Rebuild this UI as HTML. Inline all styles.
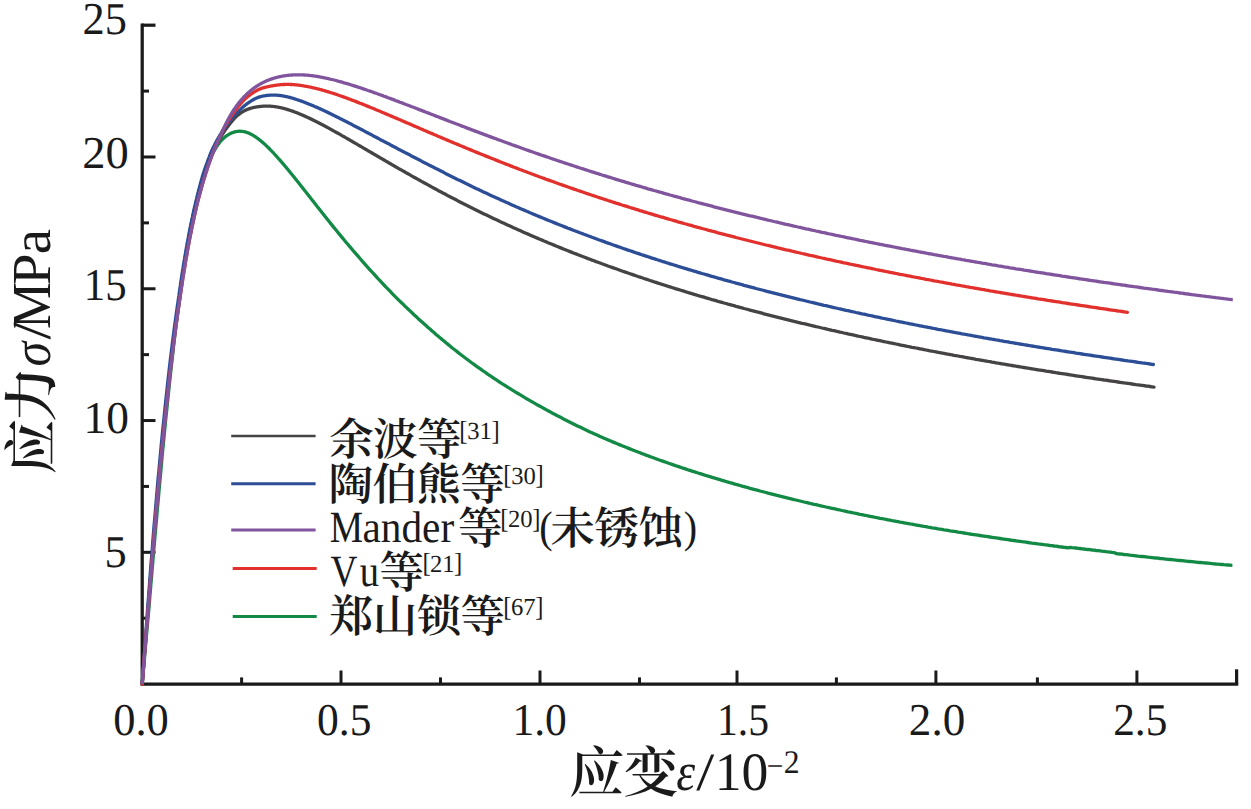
<!DOCTYPE html>
<html><head><meta charset="utf-8"><title>chart</title>
<style>html,body{margin:0;padding:0;background:#fff}svg{display:block}text{font-family:"Liberation Serif","Noto Serif CJK SC",serif;text-rendering:geometricPrecision}</style>
</head><body>
<svg width="1251" height="809" viewBox="0 0 1251 809">
<rect width="1251" height="809" fill="#fff"/>
<g stroke="#1a1a1a" stroke-width="3.25" fill="none" stroke-linecap="butt">
<path d="M142.20 23.48 V684.10 H1238.22"/>
<path d="M142.20 618.21 H149.00" stroke-width="3.00"/>
<path d="M142.20 552.32 H155.50" stroke-width="3.00"/>
<path d="M142.20 486.43 H149.00" stroke-width="3.00"/>
<path d="M142.20 420.54 H155.50" stroke-width="3.00"/>
<path d="M142.20 354.65 H149.00" stroke-width="3.00"/>
<path d="M142.20 288.76 H155.50" stroke-width="3.00"/>
<path d="M142.20 222.87 H149.00" stroke-width="3.00"/>
<path d="M142.20 156.98 H155.50" stroke-width="3.00"/>
<path d="M142.20 91.09 H149.00" stroke-width="3.00"/>
<path d="M142.20 25.20 H155.50" stroke-width="3.25"/>
<path d="M241.60 684.10 V677.40" stroke-width="3.00"/>
<path d="M341.00 684.10 V670.50" stroke-width="3.00"/>
<path d="M440.50 684.10 V677.40" stroke-width="3.00"/>
<path d="M540.00 684.10 V670.50" stroke-width="3.00"/>
<path d="M639.50 684.10 V677.40" stroke-width="3.00"/>
<path d="M737.00 684.10 V670.50" stroke-width="3.00"/>
<path d="M836.40 684.10 V677.40" stroke-width="3.00"/>
<path d="M935.90 684.10 V670.50" stroke-width="3.00"/>
<path d="M1037.40 684.10 V677.40" stroke-width="3.00"/>
<path d="M1136.90 684.10 V670.50" stroke-width="3.00"/>
<path d="M1236.60 684.10 V669.30" stroke-width="3.25"/>
</g>
<g fill="none" stroke-width="3.3" stroke-linejoin="round">
<path d="M142.2 684.1 L142.8 677.2 L143.4 670.3 L144.0 663.5 L144.6 656.6 L145.2 649.8 L145.8 643.0 L146.4 636.2 L147.0 629.4 L147.6 622.7 L148.2 616.0 L148.8 609.3 L149.4 602.6 L149.9 596.0 L150.5 589.4 L151.0 582.9 L151.6 576.3 L152.1 569.9 L152.7 563.4 L153.2 557.1 L153.7 550.7 L154.3 544.4 L154.8 538.1 L155.4 531.9 L155.9 525.8 L156.5 519.6 L157.0 513.6 L157.5 507.6 L158.1 501.6 L158.6 495.7 L159.1 489.8 L159.6 484.0 L160.2 478.2 L160.7 472.5 L161.2 466.9 L161.7 461.3 L162.2 455.7 L162.7 450.2 L163.3 444.8 L163.8 439.4 L164.3 434.1 L164.8 428.8 L165.3 423.6 L165.8 418.5 L166.4 413.4 L166.9 408.4 L167.4 403.4 L167.9 398.5 L168.4 393.6 L168.9 388.8 L169.4 384.0 L169.9 379.3 L170.4 374.7 L170.9 370.1 L171.4 365.6 L171.9 361.2 L172.4 356.8 L172.9 352.4 L173.3 348.1 L173.8 343.9 L174.3 339.7 L174.8 335.6 L175.3 331.5 L175.8 327.5 L176.3 323.5 L176.8 319.6 L177.3 315.8 L177.8 312.0 L178.3 308.3 L178.8 304.6 L179.3 300.9 L179.8 297.4 L180.2 293.8 L180.7 290.4 L181.1 286.9 L181.6 283.6 L182.1 280.3 L182.5 277.0 L183.0 273.8 L183.4 270.6 L183.9 267.5 L184.4 264.4 L184.8 261.4 L185.3 258.4 L185.7 255.5 L186.2 252.6 L186.7 249.8 L187.1 247.0 L187.6 244.3 L188.1 241.6 L188.6 238.9 L189.0 236.3 L189.5 233.7 L190.0 231.2 L190.4 228.8 L190.9 226.3 L191.4 223.9 L191.9 221.6 L192.3 219.3 L192.8 217.0 L193.3 214.8 L193.7 212.6 L194.2 210.5 L194.7 208.4 L195.2 206.3 L195.6 204.3 L196.1 202.3 L196.6 200.3 L197.1 198.4 L197.5 196.5 L198.0 194.7 L198.5 192.9 L199.0 191.1 L199.4 189.4 L199.9 187.7 L200.4 186.0 L200.9 184.4 L201.3 182.8 L201.8 181.2 L202.3 179.7 L202.8 178.2 L203.3 176.7 L203.7 175.2 L204.2 173.8 L204.7 172.4 L205.2 171.1 L205.6 169.7 L206.1 168.5 L206.6 167.2 L207.1 165.9 L207.6 164.7 L208.1 163.5 L208.5 162.4 L209.0 161.3 L209.5 160.1 L210.0 159.1 L210.5 158.0 L210.9 157.0 L211.4 156.0 L211.9 155.0 L212.4 154.0 L212.9 153.1 L213.3 152.2 L213.8 151.3 L214.3 150.5 L214.8 149.6 L215.3 148.8 L215.8 148.0 L216.2 147.2 L216.7 146.5 L217.2 145.8 L217.7 145.1 L218.2 144.4 L218.7 143.7 L219.2 143.1 L219.7 142.4 L220.2 141.8 L220.7 141.2 L221.2 140.7 L221.7 140.1 L222.2 139.6 L222.7 139.1 L223.2 138.6 L223.7 138.2 L224.2 137.7 L224.7 137.3 L225.2 136.9 L225.7 136.5 L226.2 136.1 L226.7 135.7 L227.2 135.4 L227.7 135.1 L228.2 134.8 L228.7 134.5 L229.2 134.2 L229.7 133.9 L230.2 133.6 L230.7 133.4 L231.2 133.2 L231.7 132.9 L232.2 132.7 L232.7 132.5 L233.2 132.4 L233.7 132.2 L234.2 132.1 L234.7 131.9 L235.2 131.8 L235.7 131.7 L236.2 131.6 L236.7 131.5 L237.2 131.4 L237.7 131.3 L238.2 131.3 L238.7 131.3 L239.2 131.2 L239.7 131.2 L240.2 131.2 L240.7 131.3 L241.2 131.3 L241.7 131.3 L242.2 131.4 L242.7 131.4 L243.2 131.5 L243.7 131.6 L244.2 131.7 L244.7 131.8 L245.2 131.9 L245.7 132.1 L246.2 132.2 L246.7 132.4 L247.2 132.5 L247.7 132.7 L248.2 132.9 L248.7 133.1 L249.2 133.3 L249.7 133.6 L250.2 133.8 L250.7 134.1 L251.2 134.3 L251.7 134.6 L252.2 134.9 L252.7 135.1 L253.2 135.4 L253.7 135.7 L254.2 136.1 L254.7 136.4 L255.2 136.7 L255.7 137.0 L256.2 137.4 L256.7 137.7 L257.2 138.1 L257.7 138.4 L258.2 138.8 L258.7 139.2 L259.2 139.6 L259.7 140.0 L260.2 140.4 L260.7 140.8 L261.2 141.2 L261.7 141.6 L262.2 142.0 L262.7 142.5 L263.2 142.9 L263.7 143.3 L264.2 143.8 L264.7 144.2 L265.2 144.7 L265.7 145.2 L266.2 145.6 L266.7 146.1 L267.2 146.6 L267.7 147.1 L268.2 147.5 L268.7 148.0 L269.2 148.5 L269.7 149.0 L270.2 149.6 L270.7 150.1 L271.2 150.6 L271.7 151.1 L272.2 151.6 L272.7 152.2 L273.2 152.7 L273.7 153.2 L274.2 153.8 L274.7 154.3 L275.2 154.9 L275.7 155.4 L276.2 156.0 L276.7 156.5 L277.2 157.1 L277.7 157.6 L278.2 158.2 L278.7 158.8 L279.2 159.3 L279.7 159.9 L280.2 160.5 L280.7 161.0 L281.2 161.6 L281.7 162.2 L282.2 162.8 L282.7 163.4 L283.2 164.0 L283.7 164.5 L284.2 165.1 L284.7 165.7 L285.2 166.3 L285.7 166.9 L286.2 167.5 L286.7 168.1 L287.2 168.7 L287.7 169.3 L288.2 169.9 L288.7 170.5 L289.2 171.1 L289.7 171.8 L290.2 172.4 L290.7 173.0 L291.2 173.6 L291.7 174.2 L292.2 174.8 L292.7 175.4 L293.2 176.1 L293.7 176.7 L294.2 177.3 L294.7 177.9 L295.2 178.5 L295.7 179.2 L296.2 179.8 L296.7 180.4 L297.2 181.1 L297.7 181.7 L298.2 182.3 L298.7 182.9 L299.2 183.6 L299.7 184.2 L300.2 184.8 L300.7 185.5 L301.2 186.1 L301.7 186.7 L302.2 187.4 L302.7 188.0 L303.2 188.6 L303.7 189.3 L304.2 189.9 L304.7 190.5 L305.2 191.2 L305.7 191.8 L306.2 192.4 L306.7 193.1 L307.2 193.7 L307.7 194.4 L308.2 195.0 L308.7 195.6 L309.2 196.3 L309.7 196.9 L310.2 197.5 L310.7 198.2 L311.2 198.8 L311.7 199.5 L312.2 200.1 L312.7 200.7 L313.2 201.4 L313.7 202.0 L314.2 202.6 L314.7 203.3 L315.2 203.9 L315.7 204.6 L316.2 205.2 L316.7 205.8 L317.2 206.5 L317.7 207.1 L318.2 207.7 L318.7 208.4 L319.2 209.0 L319.7 209.6 L320.2 210.3 L320.7 210.9 L321.2 211.5 L321.7 212.2 L322.2 212.8 L322.7 213.4 L323.2 214.1 L323.7 214.7 L324.2 215.3 L324.7 216.0 L325.2 216.6 L325.7 217.2 L326.2 217.8 L326.7 218.5 L327.2 219.1 L327.7 219.7 L328.2 220.4 L328.7 221.0 L329.2 221.6 L329.7 222.2 L330.0 222.6 L332.0 225.1 L334.0 227.6 L336.0 230.0 L338.0 232.5 L340.0 234.9 L342.0 237.4 L344.0 239.8 L346.0 242.2 L348.0 244.5 L350.0 246.9 L352.0 249.3 L354.0 251.6 L356.0 253.9 L358.0 256.2 L360.0 258.5 L362.0 260.8 L364.0 263.1 L366.0 265.4 L368.0 267.6 L370.0 269.8 L372.0 272.0 L374.0 274.2 L376.0 276.4 L378.0 278.6 L380.0 280.7 L382.0 282.9 L384.0 285.0 L386.0 287.1 L388.0 289.1 L390.0 291.2 L392.0 293.3 L394.0 295.3 L396.0 297.3 L398.0 299.3 L400.0 301.3 L402.0 303.2 L404.0 305.2 L406.0 307.1 L408.0 309.0 L410.0 310.9 L412.0 312.8 L414.0 314.7 L416.0 316.5 L418.0 318.4 L420.0 320.2 L422.0 322.0 L424.0 323.8 L426.0 325.6 L428.0 327.4 L430.0 329.1 L432.0 330.9 L434.0 332.6 L436.0 334.4 L438.0 336.1 L440.0 337.8 L442.0 339.4 L444.0 341.1 L446.0 342.8 L448.0 344.4 L450.0 346.0 L452.0 347.7 L454.0 349.2 L456.0 350.8 L458.0 352.4 L460.0 354.0 L462.0 355.5 L464.0 357.0 L466.0 358.5 L468.0 360.0 L470.0 361.5 L472.0 363.0 L474.0 364.4 L476.0 365.9 L478.0 367.3 L480.0 368.7 L482.0 370.1 L484.0 371.5 L486.0 372.9 L488.0 374.3 L490.0 375.6 L492.0 377.0 L494.0 378.3 L496.0 379.6 L498.0 381.0 L500.0 382.3 L502.0 383.6 L504.0 384.8 L506.0 386.1 L508.0 387.4 L510.0 388.6 L512.0 389.9 L514.0 391.1 L516.0 392.3 L518.0 393.5 L520.0 394.7 L522.0 395.9 L524.0 397.1 L526.0 398.3 L528.0 399.5 L530.0 400.6 L532.0 401.8 L534.0 402.9 L536.0 404.1 L538.0 405.2 L540.0 406.3 L542.0 407.4 L544.0 408.5 L546.0 409.6 L548.0 410.7 L550.0 411.8 L552.0 412.9 L554.0 413.9 L556.0 415.0 L558.0 416.1 L560.0 417.1 L562.0 418.1 L564.0 419.2 L566.0 420.2 L568.0 421.2 L570.0 422.2 L572.0 423.2 L574.0 424.2 L576.0 425.2 L578.0 426.2 L580.0 427.1 L582.0 428.1 L584.0 429.1 L586.0 430.0 L588.0 430.9 L590.0 431.9 L592.0 432.8 L594.0 433.7 L596.0 434.6 L598.0 435.5 L600.0 436.4 L602.0 437.3 L604.0 438.2 L606.0 439.0 L608.0 439.9 L610.0 440.7 L612.0 441.6 L614.0 442.4 L616.0 443.2 L618.0 444.1 L620.0 444.9 L622.0 445.7 L624.0 446.5 L626.0 447.3 L628.0 448.1 L630.0 448.9 L632.0 449.7 L634.0 450.5 L636.0 451.3 L638.0 452.0 L640.0 452.8 L642.0 453.6 L644.0 454.3 L646.0 455.1 L648.0 455.8 L650.0 456.6 L652.0 457.3 L654.0 458.0 L656.0 458.7 L658.0 459.5 L660.0 460.2 L662.0 460.9 L664.0 461.6 L666.0 462.3 L668.0 463.0 L670.0 463.7 L672.0 464.4 L674.0 465.1 L676.0 465.8 L678.0 466.4 L680.0 467.1 L682.0 467.8 L684.0 468.4 L686.0 469.1 L688.0 469.8 L690.0 470.4 L692.0 471.1 L694.0 471.7 L696.0 472.3 L698.0 473.0 L700.0 473.6 L702.0 474.2 L704.0 474.9 L706.0 475.5 L708.0 476.1 L710.0 476.7 L712.0 477.3 L714.0 477.9 L716.0 478.5 L718.0 479.1 L720.0 479.7 L722.0 480.3 L724.0 480.9 L726.0 481.5 L728.0 482.1 L730.0 482.7 L732.0 483.2 L734.0 483.8 L736.0 484.4 L738.0 484.9 L740.0 485.5 L742.0 486.1 L744.0 486.6 L746.0 487.2 L748.0 487.7 L750.0 488.3 L752.0 488.8 L754.0 489.4 L756.0 489.9 L758.0 490.4 L760.0 491.0 L762.0 491.5 L764.0 492.0 L766.0 492.5 L768.0 493.1 L770.0 493.6 L772.0 494.1 L774.0 494.6 L776.0 495.1 L778.0 495.6 L780.0 496.1 L782.0 496.6 L784.0 497.1 L786.0 497.6 L788.0 498.1 L790.0 498.6 L792.0 499.1 L794.0 499.6 L796.0 500.0 L798.0 500.5 L800.0 501.0 L802.0 501.5 L804.0 502.0 L806.0 502.4 L808.0 502.9 L810.0 503.4 L812.0 503.8 L814.0 504.3 L816.0 504.7 L818.0 505.2 L820.0 505.6 L822.0 506.1 L824.0 506.5 L826.0 507.0 L828.0 507.4 L830.0 507.9 L832.0 508.3 L834.0 508.7 L836.0 509.2 L838.0 509.6 L840.0 510.0 L842.0 510.5 L844.0 510.9 L846.0 511.3 L848.0 511.8 L850.0 512.2 L852.0 512.6 L854.0 513.0 L856.0 513.4 L858.0 513.8 L860.0 514.3 L862.0 514.7 L864.0 515.1 L866.0 515.5 L868.0 515.9 L870.0 516.3 L872.0 516.7 L874.0 517.1 L876.0 517.5 L878.0 517.9 L880.0 518.3 L882.0 518.6 L884.0 519.0 L886.0 519.4 L888.0 519.8 L890.0 520.2 L892.0 520.6 L894.0 520.9 L896.0 521.3 L898.0 521.7 L900.0 522.1 L902.0 522.4 L904.0 522.8 L906.0 523.2 L908.0 523.5 L910.0 523.9 L912.0 524.2 L914.0 524.6 L916.0 525.0 L918.0 525.3 L920.0 525.7 L922.0 526.0 L924.0 526.4 L926.0 526.7 L928.0 527.1 L930.0 527.4 L932.0 527.8 L934.0 528.1 L936.0 528.4 L938.0 528.8 L940.0 529.1 L942.0 529.4 L944.0 529.8 L946.0 530.1 L948.0 530.4 L950.0 530.8 L952.0 531.1 L954.0 531.4 L956.0 531.7 L958.0 532.1 L960.0 532.4 L962.0 532.7 L964.0 533.0 L966.0 533.3 L968.0 533.7 L970.0 534.0 L972.0 534.3 L974.0 534.6 L976.0 534.9 L978.0 535.2 L980.0 535.5 L982.0 535.8 L984.0 536.1 L986.0 536.4 L988.0 536.7 L990.0 537.0 L992.0 537.3 L994.0 537.6 L996.0 537.9 L998.0 538.2 L1000.0 538.5 L1002.0 538.8 L1004.0 539.1 L1006.0 539.4 L1008.0 539.7 L1010.0 540.0 L1012.0 540.3 L1014.0 540.5 L1016.0 540.8 L1018.0 541.1 L1020.0 541.4 L1022.0 541.7 L1024.0 541.9 L1026.0 542.2 L1028.0 542.5 L1030.0 542.8 L1032.0 543.1 L1034.0 543.3 L1036.0 543.6 L1038.0 543.9 L1040.0 544.1 L1042.0 544.4 L1044.0 544.7 L1046.0 544.9 L1048.0 545.2 L1050.0 545.5 L1052.0 545.7 L1054.0 546.0 L1056.0 546.2 L1058.0 546.5 L1060.0 546.8 L1062.0 547.0 L1064.0 547.3 L1066.0 547.5 L1068.0 547.8 L1070.0 547.3 L1072.0 547.6 L1074.0 547.8 L1076.0 548.0 L1078.0 548.3 L1080.0 548.5 L1082.0 548.8 L1084.0 549.0 L1086.0 549.3 L1088.0 549.5 L1090.0 549.7 L1092.0 550.0 L1094.0 550.2 L1096.0 550.5 L1098.0 550.7 L1100.0 550.9 L1102.0 551.2 L1104.0 551.4 L1106.0 551.7 L1108.0 551.9 L1110.0 552.1 L1112.0 552.4 L1114.0 552.6 L1116.0 553.5 L1118.0 553.8 L1120.0 554.0 L1122.0 554.2 L1124.0 554.5 L1126.0 554.7 L1128.0 554.9 L1130.0 555.2 L1132.0 555.4 L1134.0 555.6 L1136.0 555.8 L1138.0 556.1 L1140.0 556.3 L1142.0 556.5 L1144.0 556.7 L1146.0 556.9 L1148.0 557.2 L1150.0 557.4 L1152.0 557.6 L1154.0 557.8 L1156.0 558.0 L1158.0 558.2 L1160.0 558.5 L1162.0 558.7 L1164.0 558.9 L1166.0 559.1 L1168.0 559.3 L1170.0 559.5 L1172.0 559.7 L1174.0 559.9 L1176.0 560.1 L1178.0 560.3 L1180.0 560.5 L1182.0 560.7 L1184.0 560.9 L1186.0 561.1 L1188.0 561.3 L1190.0 561.5 L1192.0 561.7 L1194.0 561.9 L1196.0 562.1 L1198.0 562.3 L1200.0 562.5 L1202.0 562.7 L1204.0 562.9 L1206.0 563.0 L1208.0 563.2 L1210.0 563.4 L1212.0 563.6 L1214.0 563.8 L1216.0 564.0 L1218.0 564.1 L1220.0 564.3 L1222.0 564.5 L1224.0 564.7 L1226.0 564.8 L1228.0 565.0 L1230.0 565.2 L1232.0 565.4 L1232.4 565.4" stroke="#128a45" stroke-linecap="butt"/>
<path d="M142.2 684.1 L142.8 676.9 L143.3 669.7 L143.9 662.5 L144.4 655.3 L145.0 648.2 L145.5 641.1 L146.1 634.1 L146.6 627.1 L147.2 620.1 L147.7 613.2 L148.3 606.3 L148.8 599.5 L149.3 592.7 L149.9 586.0 L150.4 579.3 L150.9 572.7 L151.4 566.1 L152.0 559.6 L152.5 553.2 L153.0 546.8 L153.5 540.4 L154.1 534.2 L154.6 527.9 L155.1 521.8 L155.6 515.7 L156.2 509.6 L156.7 503.7 L157.2 497.8 L157.7 491.9 L158.2 486.1 L158.8 480.4 L159.3 474.7 L159.8 469.1 L160.3 463.6 L160.8 458.1 L161.3 452.7 L161.9 447.3 L162.4 442.0 L162.9 436.8 L163.4 431.6 L163.9 426.5 L164.4 421.4 L165.0 416.5 L165.5 411.5 L166.0 406.7 L166.5 401.8 L167.0 397.1 L167.5 392.4 L168.0 387.8 L168.5 383.2 L169.0 378.7 L169.5 374.2 L170.0 369.8 L170.5 365.5 L171.0 361.2 L171.5 357.0 L172.0 352.8 L172.5 348.7 L173.0 344.6 L173.5 340.6 L174.0 336.7 L174.5 332.8 L175.0 328.9 L175.5 325.1 L176.0 321.4 L176.5 317.7 L177.0 314.0 L177.5 310.5 L178.0 306.9 L178.5 303.4 L179.0 300.0 L179.5 296.6 L179.9 293.2 L180.4 289.9 L180.9 286.7 L181.4 283.5 L181.9 280.3 L182.3 277.2 L182.8 274.2 L183.3 271.1 L183.8 268.2 L184.2 265.2 L184.7 262.3 L185.2 259.5 L185.7 256.7 L186.1 253.9 L186.6 251.2 L187.1 248.5 L187.6 245.8 L188.1 243.2 L188.5 240.7 L189.0 238.1 L189.5 235.7 L190.0 233.2 L190.5 230.8 L190.9 228.4 L191.4 226.1 L191.9 223.8 L192.4 221.5 L192.9 219.2 L193.3 217.0 L193.8 214.9 L194.3 212.7 L194.8 210.6 L195.3 208.6 L195.8 206.5 L196.2 204.5 L196.7 202.6 L197.2 200.6 L197.7 198.7 L198.2 196.8 L198.6 195.0 L199.1 193.2 L199.6 191.4 L200.1 189.6 L200.5 187.9 L201.0 186.2 L201.5 184.5 L202.0 182.8 L202.5 181.2 L202.9 179.6 L203.4 178.1 L203.9 176.5 L204.4 175.0 L204.9 173.5 L205.4 172.0 L205.8 170.6 L206.3 169.2 L206.8 167.8 L207.3 166.4 L207.8 165.0 L208.2 163.7 L208.7 162.4 L209.2 161.1 L209.7 159.8 L210.2 158.6 L210.7 157.4 L211.2 156.2 L211.7 155.0 L212.2 153.9 L212.7 152.7 L213.2 151.6 L213.7 150.5 L214.2 149.4 L214.7 148.4 L215.2 147.3 L215.7 146.3 L216.2 145.3 L216.7 144.3 L217.2 143.4 L217.7 142.4 L218.2 141.5 L218.7 140.6 L219.2 139.7 L219.7 138.8 L220.2 137.9 L220.7 137.1 L221.2 136.2 L221.7 135.4 L222.2 134.6 L222.7 133.8 L223.2 133.1 L223.7 132.3 L224.2 131.6 L224.7 130.8 L225.2 130.1 L225.7 129.4 L226.2 128.7 L226.7 128.0 L227.2 127.3 L227.7 126.7 L228.2 126.0 L228.7 125.3 L229.2 124.7 L229.7 124.0 L230.2 123.4 L230.7 122.8 L231.2 122.2 L231.7 121.6 L232.2 121.0 L232.7 120.4 L233.2 119.8 L233.7 119.3 L234.2 118.7 L234.7 118.2 L235.2 117.7 L235.7 117.2 L236.2 116.7 L236.7 116.2 L237.2 115.7 L237.7 115.3 L238.2 114.9 L238.7 114.5 L239.2 114.1 L239.7 113.7 L240.2 113.3 L240.7 113.0 L241.2 112.6 L241.7 112.3 L242.2 112.0 L242.7 111.7 L243.2 111.4 L243.7 111.1 L244.2 110.9 L244.7 110.6 L245.2 110.4 L245.7 110.1 L246.2 109.9 L246.7 109.7 L247.2 109.5 L247.7 109.3 L248.2 109.1 L248.7 108.9 L249.2 108.7 L249.7 108.6 L250.2 108.4 L250.7 108.3 L251.2 108.1 L251.7 108.0 L252.2 107.9 L252.7 107.7 L253.2 107.6 L253.7 107.5 L254.2 107.4 L254.7 107.3 L255.2 107.2 L255.7 107.1 L256.2 107.0 L256.7 106.9 L257.2 106.9 L257.7 106.8 L258.2 106.7 L258.7 106.6 L259.2 106.6 L259.7 106.5 L260.2 106.5 L260.7 106.4 L261.2 106.4 L261.7 106.3 L262.2 106.3 L262.7 106.2 L263.2 106.2 L263.7 106.2 L264.2 106.2 L264.7 106.1 L265.2 106.1 L265.7 106.1 L266.2 106.1 L266.7 106.1 L267.2 106.1 L267.7 106.1 L268.2 106.1 L268.7 106.1 L269.2 106.2 L269.7 106.2 L270.2 106.2 L270.7 106.2 L271.2 106.3 L271.7 106.3 L272.2 106.3 L272.7 106.4 L273.2 106.4 L273.7 106.5 L274.2 106.6 L274.7 106.6 L275.2 106.7 L275.7 106.8 L276.2 106.8 L276.7 106.9 L277.2 107.0 L277.7 107.1 L278.2 107.2 L278.7 107.3 L279.2 107.4 L279.7 107.5 L280.2 107.6 L280.7 107.7 L281.2 107.8 L281.7 107.9 L282.2 108.0 L282.7 108.2 L283.2 108.3 L283.7 108.4 L284.2 108.5 L284.7 108.7 L285.2 108.8 L285.7 109.0 L286.2 109.1 L286.7 109.3 L287.2 109.4 L287.7 109.6 L288.2 109.7 L288.7 109.9 L289.2 110.0 L289.7 110.2 L290.2 110.4 L290.7 110.5 L291.2 110.7 L291.7 110.9 L292.2 111.1 L292.7 111.2 L293.2 111.4 L293.7 111.6 L294.2 111.8 L294.7 112.0 L295.2 112.2 L295.7 112.4 L296.2 112.5 L296.7 112.7 L297.2 112.9 L297.7 113.1 L298.2 113.3 L298.7 113.5 L299.2 113.7 L299.7 114.0 L300.2 114.2 L300.7 114.4 L301.2 114.6 L301.7 114.8 L302.2 115.0 L302.7 115.2 L303.2 115.4 L303.7 115.7 L304.2 115.9 L304.7 116.1 L305.2 116.3 L305.7 116.6 L306.2 116.8 L306.7 117.0 L307.2 117.2 L307.7 117.5 L308.2 117.7 L308.7 117.9 L309.2 118.2 L309.7 118.4 L310.2 118.6 L310.7 118.9 L311.2 119.1 L311.7 119.4 L312.2 119.6 L312.7 119.9 L313.2 120.1 L313.7 120.3 L314.2 120.6 L314.7 120.8 L315.2 121.1 L315.7 121.3 L316.2 121.6 L316.7 121.8 L317.2 122.1 L317.7 122.3 L318.2 122.6 L318.7 122.9 L319.2 123.1 L319.7 123.4 L320.2 123.6 L320.7 123.9 L321.2 124.2 L321.7 124.4 L322.2 124.7 L322.7 124.9 L323.2 125.2 L323.7 125.5 L324.2 125.7 L324.7 126.0 L325.2 126.3 L325.7 126.5 L326.2 126.8 L326.7 127.1 L327.2 127.3 L327.7 127.6 L328.2 127.9 L328.7 128.2 L329.2 128.4 L329.7 128.7 L330.0 128.9 L332.0 130.0 L334.0 131.1 L336.0 132.2 L338.0 133.3 L340.0 134.4 L342.0 135.6 L344.0 136.7 L346.0 137.9 L348.0 139.0 L350.0 140.2 L352.0 141.3 L354.0 142.5 L356.0 143.6 L358.0 144.8 L360.0 146.0 L362.0 147.1 L364.0 148.3 L366.0 149.5 L368.0 150.7 L370.0 151.8 L372.0 153.0 L374.0 154.2 L376.0 155.3 L378.0 156.5 L380.0 157.7 L382.0 158.8 L384.0 160.0 L386.0 161.2 L388.0 162.3 L390.0 163.5 L392.0 164.7 L394.0 165.8 L396.0 167.0 L398.0 168.1 L400.0 169.3 L402.0 170.4 L404.0 171.5 L406.0 172.7 L408.0 173.8 L410.0 174.9 L412.0 176.1 L414.0 177.2 L416.0 178.3 L418.0 179.4 L420.0 180.5 L422.0 181.6 L424.0 182.7 L426.0 183.8 L428.0 184.9 L430.0 186.0 L432.0 187.1 L434.0 188.2 L436.0 189.3 L438.0 190.4 L440.0 191.4 L442.0 192.5 L444.0 193.6 L446.0 194.6 L448.0 195.7 L450.0 196.7 L452.0 197.8 L454.0 198.8 L456.0 199.8 L458.0 200.9 L460.0 201.9 L462.0 202.9 L464.0 203.9 L466.0 204.9 L468.0 206.0 L470.0 207.0 L472.0 208.0 L474.0 209.0 L476.0 209.9 L478.0 210.9 L480.0 211.9 L482.0 212.9 L484.0 213.9 L486.0 214.8 L488.0 215.8 L490.0 216.7 L492.0 217.7 L494.0 218.7 L496.0 219.6 L498.0 220.5 L500.0 221.5 L502.0 222.4 L504.0 223.3 L506.0 224.3 L508.0 225.2 L510.0 226.1 L512.0 227.0 L514.0 227.9 L516.0 228.8 L518.0 229.7 L520.0 230.6 L522.0 231.5 L524.0 232.4 L526.0 233.3 L528.0 234.1 L530.0 235.0 L532.0 235.9 L534.0 236.7 L536.0 237.6 L538.0 238.4 L540.0 239.3 L542.0 240.1 L544.0 241.0 L546.0 241.8 L548.0 242.7 L550.0 243.5 L552.0 244.3 L554.0 245.1 L556.0 246.0 L558.0 246.8 L560.0 247.6 L562.0 248.4 L564.0 249.2 L566.0 250.0 L568.0 250.8 L570.0 251.6 L572.0 252.4 L574.0 253.2 L576.0 253.9 L578.0 254.7 L580.0 255.5 L582.0 256.3 L584.0 257.0 L586.0 257.8 L588.0 258.6 L590.0 259.3 L592.0 260.1 L594.0 260.8 L596.0 261.6 L598.0 262.3 L600.0 263.0 L602.0 263.8 L604.0 264.5 L606.0 265.2 L608.0 266.0 L610.0 266.7 L612.0 267.4 L614.0 268.1 L616.0 268.8 L618.0 269.5 L620.0 270.3 L622.0 271.0 L624.0 271.7 L626.0 272.3 L628.0 273.0 L630.0 273.7 L632.0 274.4 L634.0 275.1 L636.0 275.8 L638.0 276.5 L640.0 277.1 L642.0 277.8 L644.0 278.5 L646.0 279.1 L648.0 279.8 L650.0 280.5 L652.0 281.1 L654.0 281.8 L656.0 282.4 L658.0 283.1 L660.0 283.7 L662.0 284.4 L664.0 285.0 L666.0 285.6 L668.0 286.3 L670.0 286.9 L672.0 287.5 L674.0 288.2 L676.0 288.8 L678.0 289.4 L680.0 290.0 L682.0 290.6 L684.0 291.2 L686.0 291.9 L688.0 292.5 L690.0 293.1 L692.0 293.7 L694.0 294.3 L696.0 294.9 L698.0 295.5 L700.0 296.1 L702.0 296.6 L704.0 297.2 L706.0 297.8 L708.0 298.4 L710.0 299.0 L712.0 299.6 L714.0 300.1 L716.0 300.7 L718.0 301.3 L720.0 301.8 L722.0 302.4 L724.0 303.0 L726.0 303.5 L728.0 304.1 L730.0 304.6 L732.0 305.2 L734.0 305.7 L736.0 306.3 L738.0 306.8 L740.0 307.4 L742.0 307.9 L744.0 308.5 L746.0 309.0 L748.0 309.5 L750.0 310.1 L752.0 310.6 L754.0 311.1 L756.0 311.7 L758.0 312.2 L760.0 312.7 L762.0 313.2 L764.0 313.8 L766.0 314.3 L768.0 314.8 L770.0 315.3 L772.0 315.8 L774.0 316.3 L776.0 316.8 L778.0 317.3 L780.0 317.8 L782.0 318.3 L784.0 318.8 L786.0 319.3 L788.0 319.8 L790.0 320.3 L792.0 320.8 L794.0 321.3 L796.0 321.8 L798.0 322.3 L800.0 322.8 L802.0 323.3 L804.0 323.7 L806.0 324.2 L808.0 324.7 L810.0 325.2 L812.0 325.6 L814.0 326.1 L816.0 326.6 L818.0 327.0 L820.0 327.5 L822.0 328.0 L824.0 328.4 L826.0 328.9 L828.0 329.4 L830.0 329.8 L832.0 330.3 L834.0 330.7 L836.0 331.2 L838.0 331.6 L840.0 332.1 L842.0 332.5 L844.0 333.0 L846.0 333.4 L848.0 333.9 L850.0 334.3 L852.0 334.7 L854.0 335.2 L856.0 335.6 L858.0 336.1 L860.0 336.5 L862.0 336.9 L864.0 337.4 L866.0 337.8 L868.0 338.2 L870.0 338.6 L872.0 339.1 L874.0 339.5 L876.0 339.9 L878.0 340.3 L880.0 340.7 L882.0 341.2 L884.0 341.6 L886.0 342.0 L888.0 342.4 L890.0 342.8 L892.0 343.2 L894.0 343.6 L896.0 344.0 L898.0 344.4 L900.0 344.9 L902.0 345.3 L904.0 345.7 L906.0 346.1 L908.0 346.5 L910.0 346.9 L912.0 347.3 L914.0 347.6 L916.0 348.0 L918.0 348.4 L920.0 348.8 L922.0 349.2 L924.0 349.6 L926.0 350.0 L928.0 350.4 L930.0 350.8 L932.0 351.1 L934.0 351.5 L936.0 351.9 L938.0 352.3 L940.0 352.7 L942.0 353.0 L944.0 353.4 L946.0 353.8 L948.0 354.2 L950.0 354.5 L952.0 354.9 L954.0 355.3 L956.0 355.6 L958.0 356.0 L960.0 356.4 L962.0 356.7 L964.0 357.1 L966.0 357.5 L968.0 357.8 L970.0 358.2 L972.0 358.5 L974.0 358.9 L976.0 359.3 L978.0 359.6 L980.0 360.0 L982.0 360.3 L984.0 360.7 L986.0 361.0 L988.0 361.4 L990.0 361.7 L992.0 362.1 L994.0 362.4 L996.0 362.8 L998.0 363.1 L1000.0 363.5 L1002.0 363.8 L1004.0 364.1 L1006.0 364.5 L1008.0 364.8 L1010.0 365.2 L1012.0 365.5 L1014.0 365.8 L1016.0 366.2 L1018.0 366.5 L1020.0 366.8 L1022.0 367.2 L1024.0 367.5 L1026.0 367.8 L1028.0 368.1 L1030.0 368.5 L1032.0 368.8 L1034.0 369.1 L1036.0 369.5 L1038.0 369.8 L1040.0 370.1 L1042.0 370.4 L1044.0 370.7 L1046.0 371.1 L1048.0 371.4 L1050.0 371.7 L1052.0 372.0 L1054.0 372.3 L1056.0 372.7 L1058.0 373.0 L1060.0 373.3 L1062.0 373.6 L1064.0 373.9 L1066.0 374.2 L1068.0 374.5 L1070.0 374.8 L1072.0 375.1 L1074.0 375.5 L1076.0 375.8 L1078.0 376.1 L1080.0 376.4 L1082.0 376.7 L1084.0 377.0 L1086.0 377.3 L1088.0 377.6 L1090.0 377.9 L1092.0 378.2 L1094.0 378.5 L1096.0 378.8 L1098.0 379.1 L1100.0 379.4 L1102.0 379.7 L1104.0 380.0 L1106.0 380.2 L1108.0 380.5 L1110.0 380.8 L1112.0 381.1 L1114.0 381.4 L1116.0 381.7 L1118.0 382.0 L1120.0 382.3 L1122.0 382.6 L1124.0 382.9 L1126.0 383.1 L1128.0 383.4 L1130.0 383.7 L1132.0 384.0 L1134.0 384.3 L1136.0 384.6 L1138.0 384.8 L1140.0 385.1 L1142.0 385.4 L1144.0 385.7 L1146.0 386.0 L1148.0 386.2 L1150.0 386.5 L1152.0 386.8 L1154.0 387.1 L1154.1 387.1" stroke="#454344" stroke-linecap="round"/>
<path d="M142.2 684.1 L142.7 676.7 L143.2 669.3 L143.8 661.9 L144.3 654.5 L144.8 647.2 L145.3 640.0 L145.9 632.7 L146.4 625.6 L146.9 618.5 L147.4 611.4 L147.9 604.4 L148.5 597.5 L149.0 590.6 L149.5 583.8 L150.0 577.0 L150.5 570.3 L151.0 563.6 L151.6 557.1 L152.1 550.5 L152.6 544.1 L153.1 537.7 L153.6 531.4 L154.1 525.1 L154.7 518.9 L155.2 512.8 L155.7 506.8 L156.2 500.8 L156.7 494.9 L157.2 489.0 L157.7 483.2 L158.2 477.5 L158.8 471.8 L159.3 466.2 L159.8 460.7 L160.3 455.3 L160.8 449.9 L161.3 444.5 L161.8 439.3 L162.3 434.1 L162.8 428.9 L163.4 423.9 L163.9 418.9 L164.4 413.9 L164.9 409.0 L165.4 404.2 L165.9 399.5 L166.4 394.8 L166.9 390.1 L167.4 385.5 L167.9 381.0 L168.4 376.6 L168.9 372.2 L169.4 367.8 L169.9 363.5 L170.4 359.3 L170.9 355.2 L171.4 351.0 L171.9 347.0 L172.4 343.0 L172.9 339.0 L173.4 335.1 L173.9 331.3 L174.4 327.5 L174.9 323.8 L175.4 320.1 L175.9 316.4 L176.4 312.9 L176.9 309.3 L177.4 305.8 L177.9 302.4 L178.4 299.0 L178.9 295.7 L179.3 292.4 L179.8 289.1 L180.3 285.9 L180.7 282.8 L181.2 279.7 L181.7 276.6 L182.1 273.6 L182.6 270.6 L183.1 267.6 L183.5 264.8 L184.0 261.9 L184.5 259.1 L184.9 256.3 L185.4 253.6 L185.9 250.9 L186.3 248.2 L186.8 245.6 L187.2 243.0 L187.7 240.5 L188.2 238.0 L188.6 235.5 L189.1 233.1 L189.6 230.7 L190.0 228.3 L190.5 226.0 L191.0 223.7 L191.4 221.5 L191.9 219.3 L192.4 217.1 L192.8 214.9 L193.3 212.8 L193.8 210.7 L194.2 208.6 L194.7 206.6 L195.2 204.6 L195.6 202.6 L196.1 200.7 L196.6 198.8 L197.0 196.9 L197.5 195.0 L197.9 193.2 L198.4 191.4 L198.8 189.6 L199.3 187.9 L199.7 186.2 L200.2 184.5 L200.6 182.8 L201.1 181.2 L201.5 179.5 L202.0 177.9 L202.4 176.4 L202.9 174.8 L203.4 173.3 L203.9 171.8 L204.4 170.3 L204.9 168.9 L205.3 167.5 L205.8 166.1 L206.3 164.7 L206.8 163.3 L207.3 162.0 L207.8 160.7 L208.3 159.4 L208.8 158.1 L209.3 156.8 L209.7 155.6 L210.2 154.4 L210.7 153.2 L211.2 152.0 L211.7 150.8 L212.2 149.7 L212.7 148.6 L213.3 147.4 L213.8 146.4 L214.4 145.3 L214.9 144.2 L215.4 143.2 L216.0 142.2 L216.5 141.2 L217.0 140.2 L217.6 139.2 L218.1 138.3 L218.6 137.3 L219.2 136.4 L219.7 135.5 L220.2 134.6 L220.8 133.7 L221.3 132.9 L221.8 132.0 L222.4 131.2 L222.9 130.3 L223.5 129.5 L224.0 128.8 L224.5 128.0 L225.1 127.2 L225.6 126.5 L226.1 125.7 L226.7 125.0 L227.2 124.3 L227.7 123.6 L228.3 122.9 L228.8 122.2 L229.3 121.5 L229.9 120.9 L230.4 120.2 L230.9 119.6 L231.4 119.0 L231.9 118.4 L232.5 117.8 L233.0 117.2 L233.5 116.6 L234.0 116.0 L234.5 115.4 L235.1 114.9 L235.6 114.3 L236.1 113.8 L236.6 113.2 L237.1 112.7 L237.6 112.2 L238.2 111.6 L238.7 111.1 L239.2 110.6 L239.7 110.1 L240.2 109.6 L240.7 109.1 L241.2 108.7 L241.7 108.2 L242.2 107.7 L242.7 107.3 L243.2 106.9 L243.7 106.4 L244.2 106.0 L244.7 105.6 L245.2 105.2 L245.7 104.8 L246.2 104.4 L246.7 104.0 L247.2 103.7 L247.7 103.3 L248.2 102.9 L248.7 102.6 L249.2 102.2 L249.7 101.9 L250.2 101.6 L250.7 101.2 L251.2 100.9 L251.7 100.6 L252.2 100.3 L252.7 100.0 L253.2 99.7 L253.7 99.4 L254.2 99.2 L254.7 98.9 L255.2 98.7 L255.7 98.4 L256.2 98.2 L256.7 98.0 L257.2 97.8 L257.7 97.6 L258.2 97.4 L258.7 97.2 L259.2 97.1 L259.7 96.9 L260.2 96.8 L260.7 96.6 L261.2 96.5 L261.7 96.4 L262.2 96.2 L262.7 96.1 L263.2 96.0 L263.7 95.9 L264.2 95.8 L264.7 95.8 L265.2 95.7 L265.7 95.6 L266.2 95.5 L266.7 95.5 L267.2 95.4 L267.7 95.4 L268.2 95.3 L268.7 95.3 L269.2 95.2 L269.7 95.2 L270.2 95.2 L270.7 95.2 L271.2 95.1 L271.7 95.1 L272.2 95.1 L272.7 95.1 L273.2 95.1 L273.7 95.1 L274.2 95.1 L274.7 95.1 L275.2 95.1 L275.7 95.2 L276.2 95.2 L276.7 95.2 L277.2 95.2 L277.7 95.3 L278.2 95.3 L278.7 95.4 L279.2 95.4 L279.7 95.5 L280.2 95.5 L280.7 95.6 L281.2 95.7 L281.7 95.7 L282.2 95.8 L282.7 95.9 L283.2 96.0 L283.7 96.1 L284.2 96.2 L284.7 96.3 L285.2 96.4 L285.7 96.5 L286.2 96.6 L286.7 96.7 L287.2 96.8 L287.7 96.9 L288.2 97.0 L288.7 97.2 L289.2 97.3 L289.7 97.4 L290.2 97.6 L290.7 97.7 L291.2 97.8 L291.7 98.0 L292.2 98.1 L292.7 98.3 L293.2 98.4 L293.7 98.6 L294.2 98.7 L294.7 98.9 L295.2 99.0 L295.7 99.2 L296.2 99.4 L296.7 99.5 L297.2 99.7 L297.7 99.9 L298.2 100.0 L298.7 100.2 L299.2 100.4 L299.7 100.5 L300.2 100.7 L300.7 100.9 L301.2 101.1 L301.7 101.3 L302.2 101.4 L302.7 101.6 L303.2 101.8 L303.7 102.0 L304.2 102.2 L304.7 102.4 L305.2 102.6 L305.7 102.8 L306.2 103.0 L306.7 103.2 L307.2 103.4 L307.7 103.6 L308.2 103.8 L308.7 104.0 L309.2 104.2 L309.7 104.4 L310.2 104.6 L310.7 104.8 L311.2 105.0 L311.7 105.2 L312.2 105.4 L312.7 105.6 L313.2 105.8 L313.7 106.0 L314.2 106.2 L314.7 106.5 L315.2 106.7 L315.7 106.9 L316.2 107.1 L316.7 107.3 L317.2 107.5 L317.7 107.8 L318.2 108.0 L318.7 108.2 L319.2 108.4 L319.7 108.7 L320.2 108.9 L320.7 109.1 L321.2 109.3 L321.7 109.6 L322.2 109.8 L322.7 110.0 L323.2 110.3 L323.7 110.5 L324.2 110.7 L324.7 111.0 L325.2 111.2 L325.7 111.4 L326.2 111.7 L326.7 111.9 L327.2 112.1 L327.7 112.4 L328.2 112.6 L328.7 112.9 L329.2 113.1 L329.7 113.3 L330.0 113.5 L332.0 114.5 L334.0 115.5 L336.0 116.4 L338.0 117.4 L340.0 118.5 L342.0 119.5 L344.0 120.5 L346.0 121.5 L348.0 122.5 L350.0 123.6 L352.0 124.6 L354.0 125.7 L356.0 126.7 L358.0 127.7 L360.0 128.8 L362.0 129.8 L364.0 130.9 L366.0 132.0 L368.0 133.0 L370.0 134.1 L372.0 135.1 L374.0 136.2 L376.0 137.2 L378.0 138.3 L380.0 139.4 L382.0 140.4 L384.0 141.5 L386.0 142.5 L388.0 143.6 L390.0 144.6 L392.0 145.7 L394.0 146.8 L396.0 147.8 L398.0 148.9 L400.0 149.9 L402.0 151.0 L404.0 152.0 L406.0 153.1 L408.0 154.1 L410.0 155.1 L412.0 156.2 L414.0 157.2 L416.0 158.3 L418.0 159.3 L420.0 160.3 L422.0 161.4 L424.0 162.4 L426.0 163.4 L428.0 164.5 L430.0 165.5 L432.0 166.5 L434.0 167.5 L436.0 168.6 L438.0 169.6 L440.0 170.6 L442.0 171.6 L444.0 172.6 L446.0 173.7 L448.0 174.7 L450.0 175.7 L452.0 176.7 L454.0 177.7 L456.0 178.7 L458.0 179.7 L460.0 180.6 L462.0 181.6 L464.0 182.6 L466.0 183.6 L468.0 184.5 L470.0 185.5 L472.0 186.5 L474.0 187.4 L476.0 188.4 L478.0 189.3 L480.0 190.3 L482.0 191.2 L484.0 192.2 L486.0 193.1 L488.0 194.0 L490.0 195.0 L492.0 195.9 L494.0 196.8 L496.0 197.7 L498.0 198.6 L500.0 199.5 L502.0 200.4 L504.0 201.3 L506.0 202.2 L508.0 203.1 L510.0 204.0 L512.0 204.9 L514.0 205.8 L516.0 206.7 L518.0 207.5 L520.0 208.4 L522.0 209.3 L524.0 210.1 L526.0 211.0 L528.0 211.8 L530.0 212.7 L532.0 213.5 L534.0 214.4 L536.0 215.2 L538.0 216.1 L540.0 216.9 L542.0 217.7 L544.0 218.5 L546.0 219.4 L548.0 220.2 L550.0 221.0 L552.0 221.8 L554.0 222.6 L556.0 223.4 L558.0 224.2 L560.0 225.0 L562.0 225.8 L564.0 226.6 L566.0 227.4 L568.0 228.2 L570.0 228.9 L572.0 229.7 L574.0 230.5 L576.0 231.2 L578.0 232.0 L580.0 232.8 L582.0 233.5 L584.0 234.3 L586.0 235.0 L588.0 235.8 L590.0 236.5 L592.0 237.3 L594.0 238.0 L596.0 238.7 L598.0 239.5 L600.0 240.2 L602.0 240.9 L604.0 241.6 L606.0 242.4 L608.0 243.1 L610.0 243.8 L612.0 244.5 L614.0 245.2 L616.0 245.9 L618.0 246.6 L620.0 247.3 L622.0 248.0 L624.0 248.7 L626.0 249.4 L628.0 250.1 L630.0 250.7 L632.0 251.4 L634.0 252.1 L636.0 252.8 L638.0 253.4 L640.0 254.1 L642.0 254.8 L644.0 255.4 L646.0 256.1 L648.0 256.7 L650.0 257.4 L652.0 258.1 L654.0 258.7 L656.0 259.3 L658.0 260.0 L660.0 260.6 L662.0 261.3 L664.0 261.9 L666.0 262.5 L668.0 263.2 L670.0 263.8 L672.0 264.4 L674.0 265.0 L676.0 265.6 L678.0 266.3 L680.0 266.9 L682.0 267.5 L684.0 268.1 L686.0 268.7 L688.0 269.3 L690.0 269.9 L692.0 270.5 L694.0 271.1 L696.0 271.7 L698.0 272.3 L700.0 272.9 L702.0 273.5 L704.0 274.0 L706.0 274.6 L708.0 275.2 L710.0 275.8 L712.0 276.4 L714.0 276.9 L716.0 277.5 L718.0 278.1 L720.0 278.6 L722.0 279.2 L724.0 279.8 L726.0 280.3 L728.0 280.9 L730.0 281.4 L732.0 282.0 L734.0 282.5 L736.0 283.1 L738.0 283.6 L740.0 284.2 L742.0 284.7 L744.0 285.3 L746.0 285.8 L748.0 286.3 L750.0 286.9 L752.0 287.4 L754.0 287.9 L756.0 288.5 L758.0 289.0 L760.0 289.5 L762.0 290.0 L764.0 290.5 L766.0 291.1 L768.0 291.6 L770.0 292.1 L772.0 292.6 L774.0 293.1 L776.0 293.6 L778.0 294.1 L780.0 294.6 L782.0 295.1 L784.0 295.6 L786.0 296.1 L788.0 296.6 L790.0 297.1 L792.0 297.6 L794.0 298.1 L796.0 298.6 L798.0 299.1 L800.0 299.6 L802.0 300.0 L804.0 300.5 L806.0 301.0 L808.0 301.5 L810.0 302.0 L812.0 302.4 L814.0 302.9 L816.0 303.4 L818.0 303.9 L820.0 304.3 L822.0 304.8 L824.0 305.3 L826.0 305.7 L828.0 306.2 L830.0 306.6 L832.0 307.1 L834.0 307.6 L836.0 308.0 L838.0 308.5 L840.0 308.9 L842.0 309.4 L844.0 309.8 L846.0 310.3 L848.0 310.7 L850.0 311.2 L852.0 311.6 L854.0 312.0 L856.0 312.5 L858.0 312.9 L860.0 313.3 L862.0 313.8 L864.0 314.2 L866.0 314.6 L868.0 315.1 L870.0 315.5 L872.0 315.9 L874.0 316.4 L876.0 316.8 L878.0 317.2 L880.0 317.6 L882.0 318.1 L884.0 318.5 L886.0 318.9 L888.0 319.3 L890.0 319.7 L892.0 320.1 L894.0 320.5 L896.0 321.0 L898.0 321.4 L900.0 321.8 L902.0 322.2 L904.0 322.6 L906.0 323.0 L908.0 323.4 L910.0 323.8 L912.0 324.2 L914.0 324.6 L916.0 325.0 L918.0 325.4 L920.0 325.8 L922.0 326.2 L924.0 326.6 L926.0 326.9 L928.0 327.3 L930.0 327.7 L932.0 328.1 L934.0 328.5 L936.0 328.9 L938.0 329.3 L940.0 329.6 L942.0 330.0 L944.0 330.4 L946.0 330.8 L948.0 331.2 L950.0 331.5 L952.0 331.9 L954.0 332.3 L956.0 332.7 L958.0 333.0 L960.0 333.4 L962.0 333.8 L964.0 334.1 L966.0 334.5 L968.0 334.9 L970.0 335.2 L972.0 335.6 L974.0 336.0 L976.0 336.3 L978.0 336.7 L980.0 337.0 L982.0 337.4 L984.0 337.8 L986.0 338.1 L988.0 338.5 L990.0 338.8 L992.0 339.2 L994.0 339.5 L996.0 339.9 L998.0 340.2 L1000.0 340.6 L1002.0 340.9 L1004.0 341.3 L1006.0 341.6 L1008.0 341.9 L1010.0 342.3 L1012.0 342.6 L1014.0 343.0 L1016.0 343.3 L1018.0 343.7 L1020.0 344.0 L1022.0 344.3 L1024.0 344.7 L1026.0 345.0 L1028.0 345.3 L1030.0 345.7 L1032.0 346.0 L1034.0 346.3 L1036.0 346.7 L1038.0 347.0 L1040.0 347.3 L1042.0 347.6 L1044.0 348.0 L1046.0 348.3 L1048.0 348.6 L1050.0 348.9 L1052.0 349.3 L1054.0 349.6 L1056.0 349.9 L1058.0 350.2 L1060.0 350.5 L1062.0 350.9 L1064.0 351.2 L1066.0 351.5 L1068.0 351.8 L1070.0 352.1 L1072.0 352.4 L1074.0 352.7 L1076.0 353.1 L1078.0 353.4 L1080.0 353.7 L1082.0 354.0 L1084.0 354.3 L1086.0 354.6 L1088.0 354.9 L1090.0 355.2 L1092.0 355.5 L1094.0 355.8 L1096.0 356.1 L1098.0 356.4 L1100.0 356.7 L1102.0 357.0 L1104.0 357.3 L1106.0 357.6 L1108.0 357.9 L1110.0 358.2 L1112.0 358.5 L1114.0 358.8 L1116.0 359.1 L1118.0 359.4 L1120.0 359.7 L1122.0 360.0 L1124.0 360.3 L1126.0 360.6 L1128.0 360.9 L1130.0 361.1 L1132.0 361.4 L1134.0 361.7 L1136.0 362.0 L1138.0 362.3 L1140.0 362.6 L1142.0 362.9 L1144.0 363.1 L1146.0 363.4 L1148.0 363.7 L1150.0 364.0 L1152.0 364.3 L1153.4 364.5" stroke="#2c4e97" stroke-linecap="round"/>
<path d="M142.2 684.1 L142.8 676.6 L143.4 669.2 L143.9 661.8 L144.5 654.5 L145.1 647.2 L145.7 639.9 L146.2 632.7 L146.8 625.6 L147.4 618.5 L148.0 611.4 L148.6 604.4 L149.1 597.5 L149.6 590.6 L150.2 583.8 L150.7 577.1 L151.2 570.4 L151.7 563.8 L152.3 557.3 L152.8 550.8 L153.3 544.4 L153.8 538.0 L154.4 531.8 L154.9 525.5 L155.4 519.4 L155.9 513.3 L156.5 507.3 L157.0 501.4 L157.5 495.5 L158.1 489.7 L158.6 483.9 L159.1 478.2 L159.6 472.6 L160.2 467.1 L160.7 461.6 L161.2 456.2 L161.7 450.8 L162.3 445.6 L162.8 440.3 L163.3 435.2 L163.8 430.1 L164.4 425.1 L164.9 420.1 L165.4 415.2 L165.9 410.3 L166.5 405.6 L167.0 400.8 L167.5 396.2 L168.0 391.6 L168.5 387.0 L169.0 382.6 L169.5 378.1 L170.0 373.8 L170.5 369.5 L171.0 365.2 L171.5 361.0 L172.0 356.9 L172.5 352.8 L173.0 348.7 L173.5 344.8 L174.0 340.8 L174.5 336.9 L175.0 333.1 L175.5 329.4 L176.0 325.6 L176.5 322.0 L177.0 318.3 L177.5 314.8 L178.0 311.2 L178.5 307.8 L179.0 304.3 L179.5 301.0 L180.0 297.6 L180.5 294.3 L180.9 291.1 L181.4 287.9 L181.9 284.7 L182.4 281.6 L182.8 278.5 L183.3 275.5 L183.8 272.5 L184.3 269.6 L184.8 266.7 L185.2 263.8 L185.7 261.0 L186.2 258.2 L186.7 255.5 L187.1 252.7 L187.6 250.1 L188.1 247.4 L188.6 244.8 L189.1 242.3 L189.5 239.8 L190.0 237.3 L190.5 234.8 L191.0 232.4 L191.5 230.0 L191.9 227.7 L192.4 225.4 L192.9 223.1 L193.4 220.8 L193.9 218.6 L194.3 216.4 L194.8 214.2 L195.3 212.1 L195.8 210.0 L196.3 208.0 L196.7 205.9 L197.2 203.9 L197.7 201.9 L198.2 200.0 L198.7 198.1 L199.2 196.2 L199.7 194.3 L200.2 192.4 L200.7 190.6 L201.1 188.8 L201.6 187.1 L202.1 185.3 L202.6 183.6 L203.1 181.9 L203.6 180.3 L204.1 178.6 L204.6 177.0 L205.1 175.4 L205.6 173.8 L206.1 172.3 L206.6 170.8 L207.0 169.3 L207.5 167.8 L208.0 166.3 L208.5 164.9 L209.0 163.5 L209.5 162.1 L210.0 160.7 L210.5 159.3 L211.0 158.0 L211.5 156.7 L211.9 155.4 L212.4 154.1 L212.9 152.8 L213.4 151.6 L213.9 150.4 L214.4 149.2 L214.9 148.0 L215.4 146.8 L215.9 145.7 L216.3 144.5 L216.8 143.4 L217.3 142.3 L217.8 141.2 L218.3 140.2 L218.8 139.1 L219.3 138.1 L219.8 137.1 L220.3 136.1 L220.8 135.1 L221.2 134.1 L221.6 133.1 L222.1 132.2 L222.5 131.3 L223.0 130.3 L223.4 129.4 L223.9 128.6 L224.3 127.7 L224.8 126.8 L225.3 126.0 L225.7 125.1 L226.2 124.3 L226.7 123.5 L227.2 122.6 L227.7 121.8 L228.2 121.0 L228.7 120.2 L229.2 119.4 L229.7 118.6 L230.2 117.9 L230.7 117.1 L231.2 116.3 L231.7 115.6 L232.2 114.9 L232.7 114.1 L233.2 113.4 L233.7 112.7 L234.2 112.0 L234.7 111.3 L235.2 110.6 L235.7 110.0 L236.2 109.3 L236.7 108.7 L237.2 108.0 L237.7 107.4 L238.2 106.8 L238.7 106.1 L239.2 105.5 L239.7 104.9 L240.2 104.3 L240.7 103.7 L241.2 103.1 L241.7 102.5 L242.2 101.9 L242.7 101.4 L243.2 100.8 L243.7 100.3 L244.2 99.8 L244.7 99.3 L245.2 98.8 L245.7 98.4 L246.2 97.9 L246.7 97.5 L247.2 97.1 L247.7 96.7 L248.2 96.3 L248.7 95.9 L249.2 95.5 L249.7 95.1 L250.2 94.7 L250.7 94.4 L251.2 94.0 L251.7 93.7 L252.2 93.3 L252.7 93.0 L253.2 92.6 L253.7 92.3 L254.2 92.0 L254.7 91.7 L255.2 91.4 L255.7 91.1 L256.2 90.8 L256.7 90.5 L257.2 90.3 L257.7 90.0 L258.2 89.7 L258.7 89.5 L259.2 89.3 L259.7 89.1 L260.2 88.9 L260.7 88.7 L261.2 88.5 L261.7 88.3 L262.2 88.1 L262.7 88.0 L263.2 87.8 L263.7 87.7 L264.2 87.6 L264.7 87.4 L265.2 87.3 L265.7 87.2 L266.2 87.1 L266.7 87.0 L267.2 86.8 L267.7 86.7 L268.2 86.6 L268.7 86.5 L269.2 86.4 L269.7 86.3 L270.2 86.2 L270.7 86.1 L271.2 86.0 L271.7 85.9 L272.2 85.9 L272.7 85.8 L273.2 85.7 L273.7 85.6 L274.2 85.5 L274.7 85.4 L275.2 85.3 L275.7 85.3 L276.2 85.2 L276.7 85.1 L277.2 85.1 L277.7 85.0 L278.2 84.9 L278.7 84.9 L279.2 84.8 L279.7 84.8 L280.2 84.7 L280.7 84.7 L281.2 84.6 L281.7 84.6 L282.2 84.6 L282.7 84.5 L283.2 84.5 L283.7 84.5 L284.2 84.5 L284.7 84.5 L285.2 84.4 L285.7 84.4 L286.2 84.4 L286.7 84.4 L287.2 84.4 L287.7 84.4 L288.2 84.4 L288.7 84.4 L289.2 84.4 L289.7 84.4 L290.2 84.5 L290.7 84.5 L291.2 84.5 L291.7 84.5 L292.2 84.5 L292.7 84.6 L293.2 84.6 L293.7 84.6 L294.2 84.7 L294.7 84.7 L295.2 84.8 L295.7 84.8 L296.2 84.9 L296.7 84.9 L297.2 85.0 L297.7 85.0 L298.2 85.1 L298.7 85.1 L299.2 85.2 L299.7 85.3 L300.2 85.3 L300.7 85.4 L301.2 85.5 L301.7 85.6 L302.2 85.7 L302.7 85.7 L303.2 85.8 L303.7 85.9 L304.2 86.0 L304.7 86.1 L305.2 86.2 L305.7 86.3 L306.2 86.3 L306.7 86.4 L307.2 86.5 L307.7 86.6 L308.2 86.7 L308.7 86.8 L309.2 86.9 L309.7 87.0 L310.2 87.1 L310.7 87.2 L311.2 87.3 L311.7 87.5 L312.2 87.6 L312.7 87.7 L313.2 87.8 L313.7 87.9 L314.2 88.0 L314.7 88.1 L315.2 88.2 L315.7 88.4 L316.2 88.5 L316.7 88.6 L317.2 88.7 L317.7 88.9 L318.2 89.0 L318.7 89.1 L319.2 89.2 L319.7 89.4 L320.2 89.5 L320.7 89.6 L321.2 89.8 L321.7 89.9 L322.2 90.1 L322.7 90.2 L323.2 90.3 L323.7 90.5 L324.2 90.6 L324.7 90.8 L325.2 90.9 L325.7 91.1 L326.2 91.2 L326.7 91.4 L327.2 91.5 L327.7 91.7 L328.2 91.8 L328.7 92.0 L329.2 92.1 L329.7 92.3 L330.0 92.4 L332.0 93.0 L334.0 93.6 L336.0 94.3 L338.0 95.0 L340.0 95.7 L342.0 96.4 L344.0 97.1 L346.0 97.8 L348.0 98.6 L350.0 99.3 L352.0 100.1 L354.0 100.8 L356.0 101.6 L358.0 102.4 L360.0 103.2 L362.0 103.9 L364.0 104.7 L366.0 105.6 L368.0 106.4 L370.0 107.2 L372.0 108.0 L374.0 108.8 L376.0 109.7 L378.0 110.5 L380.0 111.3 L382.0 112.2 L384.0 113.0 L386.0 113.9 L388.0 114.7 L390.0 115.6 L392.0 116.4 L394.0 117.3 L396.0 118.1 L398.0 119.0 L400.0 119.8 L402.0 120.7 L404.0 121.6 L406.0 122.4 L408.0 123.3 L410.0 124.1 L412.0 125.0 L414.0 125.9 L416.0 126.7 L418.0 127.6 L420.0 128.5 L422.0 129.3 L424.0 130.2 L426.0 131.0 L428.0 131.9 L430.0 132.8 L432.0 133.6 L434.0 134.5 L436.0 135.3 L438.0 136.2 L440.0 137.0 L442.0 137.9 L444.0 138.7 L446.0 139.6 L448.0 140.4 L450.0 141.3 L452.0 142.1 L454.0 143.0 L456.0 143.8 L458.0 144.6 L460.0 145.5 L462.0 146.3 L464.0 147.1 L466.0 148.0 L468.0 148.8 L470.0 149.6 L472.0 150.4 L474.0 151.3 L476.0 152.1 L478.0 152.9 L480.0 153.7 L482.0 154.5 L484.0 155.3 L486.0 156.1 L488.0 156.9 L490.0 157.7 L492.0 158.5 L494.0 159.3 L496.0 160.1 L498.0 160.9 L500.0 161.7 L502.0 162.5 L504.0 163.3 L506.0 164.1 L508.0 164.8 L510.0 165.6 L512.0 166.4 L514.0 167.2 L516.0 167.9 L518.0 168.7 L520.0 169.5 L522.0 170.2 L524.0 171.0 L526.0 171.7 L528.0 172.5 L530.0 173.2 L532.0 174.0 L534.0 174.7 L536.0 175.5 L538.0 176.2 L540.0 177.0 L542.0 177.7 L544.0 178.4 L546.0 179.2 L548.0 179.9 L550.0 180.6 L552.0 181.3 L554.0 182.0 L556.0 182.8 L558.0 183.5 L560.0 184.2 L562.0 184.9 L564.0 185.6 L566.0 186.3 L568.0 187.0 L570.0 187.7 L572.0 188.4 L574.0 189.1 L576.0 189.8 L578.0 190.5 L580.0 191.1 L582.0 191.8 L584.0 192.5 L586.0 193.2 L588.0 193.9 L590.0 194.5 L592.0 195.2 L594.0 195.9 L596.0 196.5 L598.0 197.2 L600.0 197.9 L602.0 198.5 L604.0 199.2 L606.0 199.8 L608.0 200.5 L610.0 201.1 L612.0 201.8 L614.0 202.4 L616.0 203.1 L618.0 203.7 L620.0 204.3 L622.0 205.0 L624.0 205.6 L626.0 206.2 L628.0 206.8 L630.0 207.5 L632.0 208.1 L634.0 208.7 L636.0 209.3 L638.0 209.9 L640.0 210.6 L642.0 211.2 L644.0 211.8 L646.0 212.4 L648.0 213.0 L650.0 213.6 L652.0 214.2 L654.0 214.8 L656.0 215.4 L658.0 216.0 L660.0 216.6 L662.0 217.1 L664.0 217.7 L666.0 218.3 L668.0 218.9 L670.0 219.5 L672.0 220.0 L674.0 220.6 L676.0 221.2 L678.0 221.8 L680.0 222.3 L682.0 222.9 L684.0 223.5 L686.0 224.0 L688.0 224.6 L690.0 225.1 L692.0 225.7 L694.0 226.3 L696.0 226.8 L698.0 227.4 L700.0 227.9 L702.0 228.5 L704.0 229.0 L706.0 229.5 L708.0 230.1 L710.0 230.6 L712.0 231.2 L714.0 231.7 L716.0 232.2 L718.0 232.8 L720.0 233.3 L722.0 233.8 L724.0 234.3 L726.0 234.9 L728.0 235.4 L730.0 235.9 L732.0 236.4 L734.0 236.9 L736.0 237.5 L738.0 238.0 L740.0 238.5 L742.0 239.0 L744.0 239.5 L746.0 240.0 L748.0 240.5 L750.0 241.0 L752.0 241.5 L754.0 242.0 L756.0 242.5 L758.0 243.0 L760.0 243.5 L762.0 244.0 L764.0 244.5 L766.0 245.0 L768.0 245.4 L770.0 245.9 L772.0 246.4 L774.0 246.9 L776.0 247.4 L778.0 247.9 L780.0 248.3 L782.0 248.8 L784.0 249.3 L786.0 249.8 L788.0 250.2 L790.0 250.7 L792.0 251.2 L794.0 251.6 L796.0 252.1 L798.0 252.5 L800.0 253.0 L802.0 253.5 L804.0 253.9 L806.0 254.4 L808.0 254.8 L810.0 255.3 L812.0 255.7 L814.0 256.2 L816.0 256.6 L818.0 257.1 L820.0 257.5 L822.0 258.0 L824.0 258.4 L826.0 258.9 L828.0 259.3 L830.0 259.7 L832.0 260.2 L834.0 260.6 L836.0 261.1 L838.0 261.5 L840.0 261.9 L842.0 262.3 L844.0 262.8 L846.0 263.2 L848.0 263.6 L850.0 264.1 L852.0 264.5 L854.0 264.9 L856.0 265.3 L858.0 265.7 L860.0 266.2 L862.0 266.6 L864.0 267.0 L866.0 267.4 L868.0 267.8 L870.0 268.2 L872.0 268.6 L874.0 269.0 L876.0 269.5 L878.0 269.9 L880.0 270.3 L882.0 270.7 L884.0 271.1 L886.0 271.5 L888.0 271.9 L890.0 272.3 L892.0 272.7 L894.0 273.1 L896.0 273.5 L898.0 273.9 L900.0 274.3 L902.0 274.6 L904.0 275.0 L906.0 275.4 L908.0 275.8 L910.0 276.2 L912.0 276.6 L914.0 277.0 L916.0 277.4 L918.0 277.7 L920.0 278.1 L922.0 278.5 L924.0 278.9 L926.0 279.3 L928.0 279.6 L930.0 280.0 L932.0 280.4 L934.0 280.8 L936.0 281.1 L938.0 281.5 L940.0 281.9 L942.0 282.2 L944.0 282.6 L946.0 283.0 L948.0 283.3 L950.0 283.7 L952.0 284.1 L954.0 284.4 L956.0 284.8 L958.0 285.1 L960.0 285.5 L962.0 285.9 L964.0 286.2 L966.0 286.6 L968.0 286.9 L970.0 287.3 L972.0 287.6 L974.0 288.0 L976.0 288.3 L978.0 288.7 L980.0 289.0 L982.0 289.4 L984.0 289.7 L986.0 290.1 L988.0 290.4 L990.0 290.8 L992.0 291.1 L994.0 291.5 L996.0 291.8 L998.0 292.1 L1000.0 292.5 L1002.0 292.8 L1004.0 293.2 L1006.0 293.5 L1008.0 293.8 L1010.0 294.2 L1012.0 294.5 L1014.0 294.8 L1016.0 295.2 L1018.0 295.5 L1020.0 295.8 L1022.0 296.2 L1024.0 296.5 L1026.0 296.8 L1028.0 297.1 L1030.0 297.5 L1032.0 297.8 L1034.0 298.1 L1036.0 298.4 L1038.0 298.8 L1040.0 299.1 L1042.0 299.4 L1044.0 299.7 L1046.0 300.0 L1048.0 300.4 L1050.0 300.7 L1052.0 301.0 L1054.0 301.3 L1056.0 301.6 L1058.0 301.9 L1060.0 302.2 L1062.0 302.6 L1064.0 302.9 L1066.0 303.2 L1068.0 303.5 L1070.0 303.8 L1072.0 304.1 L1074.0 304.4 L1076.0 304.7 L1078.0 305.0 L1080.0 305.3 L1082.0 305.6 L1084.0 305.9 L1086.0 306.2 L1088.0 306.5 L1090.0 306.8 L1092.0 307.1 L1094.0 307.4 L1096.0 307.7 L1098.0 308.0 L1100.0 308.3 L1102.0 308.6 L1104.0 308.9 L1106.0 309.2 L1108.0 309.5 L1110.0 309.8 L1112.0 310.1 L1114.0 310.4 L1116.0 310.7 L1118.0 311.0 L1120.0 311.2 L1122.0 311.5 L1124.0 311.8 L1126.0 312.1 L1127.4 312.3" stroke="#e2312d" stroke-linecap="round"/>
<path d="M142.2 684.1 L142.8 676.7 L143.4 669.2 L143.9 661.9 L144.5 654.5 L145.1 647.2 L145.7 640.0 L146.2 632.8 L146.8 625.6 L147.4 618.5 L148.0 611.5 L148.6 604.6 L149.1 597.6 L149.7 590.8 L150.2 584.0 L150.7 577.3 L151.3 570.6 L151.8 564.0 L152.4 557.5 L152.9 551.0 L153.4 544.6 L154.0 538.3 L154.5 532.0 L155.0 525.8 L155.6 519.7 L156.1 513.6 L156.7 507.6 L157.2 501.7 L157.7 495.8 L158.2 490.0 L158.7 484.3 L159.3 478.6 L159.8 473.0 L160.3 467.5 L160.8 462.0 L161.3 456.6 L161.8 451.3 L162.4 446.0 L162.9 440.8 L163.4 435.6 L163.9 430.5 L164.4 425.5 L164.9 420.5 L165.5 415.6 L166.0 410.8 L166.5 406.0 L167.0 401.3 L167.5 396.6 L168.0 392.0 L168.5 387.5 L169.0 383.0 L169.5 378.6 L170.0 374.2 L170.5 369.9 L171.0 365.6 L171.5 361.4 L172.0 357.2 L172.5 353.1 L173.0 349.1 L173.5 345.1 L174.0 341.2 L174.5 337.3 L175.0 333.4 L175.5 329.6 L176.0 325.9 L176.5 322.2 L177.0 318.6 L177.5 315.0 L178.0 311.4 L178.5 307.9 L179.0 304.5 L179.5 301.1 L180.0 297.7 L180.5 294.4 L180.9 291.1 L181.4 287.9 L181.9 284.7 L182.4 281.6 L182.8 278.5 L183.3 275.4 L183.8 272.4 L184.3 269.4 L184.7 266.5 L185.2 263.6 L185.7 260.7 L186.2 257.9 L186.7 255.1 L187.2 252.4 L187.6 249.7 L188.1 247.0 L188.6 244.4 L189.1 241.8 L189.6 239.3 L190.1 236.7 L190.6 234.2 L191.1 231.8 L191.5 229.4 L192.0 227.0 L192.5 224.6 L193.0 222.3 L193.5 220.0 L194.0 217.7 L194.5 215.5 L195.0 213.3 L195.5 211.1 L195.9 209.0 L196.4 206.9 L196.9 204.8 L197.4 202.8 L197.9 200.7 L198.4 198.7 L198.9 196.8 L199.5 194.8 L200.0 192.9 L200.5 191.0 L201.0 189.2 L201.6 187.3 L202.1 185.5 L202.6 183.7 L203.1 182.0 L203.6 180.2 L204.2 178.5 L204.7 176.8 L205.2 175.2 L205.7 173.5 L206.2 171.9 L206.8 170.3 L207.3 168.7 L207.8 167.2 L208.3 165.7 L208.8 164.2 L209.3 162.7 L209.9 161.2 L210.4 159.8 L210.9 158.3 L211.4 156.9 L211.9 155.5 L212.4 154.2 L213.0 152.8 L213.5 151.5 L214.0 150.2 L214.5 148.9 L215.1 147.6 L215.6 146.4 L216.1 145.1 L216.7 143.9 L217.2 142.7 L217.7 141.5 L218.3 140.4 L218.8 139.2 L219.3 138.1 L219.8 137.0 L220.4 135.9 L220.9 134.8 L221.3 133.7 L221.8 132.6 L222.2 131.6 L222.7 130.6 L223.1 129.6 L223.6 128.6 L224.1 127.6 L224.5 126.6 L225.0 125.7 L225.4 124.7 L225.9 123.8 L226.3 122.9 L226.8 122.0 L227.3 121.1 L227.7 120.2 L228.2 119.4 L228.6 118.5 L229.1 117.7 L229.5 116.9 L230.0 116.1 L230.4 115.3 L230.9 114.5 L231.4 113.7 L231.8 113.0 L232.3 112.2 L232.7 111.5 L233.2 110.7 L233.7 110.0 L234.1 109.3 L234.6 108.6 L235.1 107.9 L235.5 107.3 L236.0 106.6 L236.4 105.9 L236.9 105.3 L237.4 104.7 L237.9 104.0 L238.3 103.4 L238.8 102.8 L239.3 102.2 L239.8 101.6 L240.3 101.1 L240.7 100.5 L241.2 99.9 L241.7 99.4 L242.2 98.8 L242.7 98.3 L243.2 97.8 L243.6 97.3 L244.1 96.7 L244.6 96.2 L245.1 95.8 L245.6 95.3 L246.1 94.8 L246.5 94.3 L247.0 93.9 L247.5 93.4 L248.0 93.0 L248.5 92.5 L249.0 92.1 L249.5 91.7 L249.9 91.3 L250.4 90.9 L250.9 90.5 L251.4 90.1 L251.9 89.7 L252.4 89.3 L252.9 88.9 L253.4 88.5 L253.9 88.2 L254.3 87.8 L254.8 87.5 L255.3 87.1 L255.8 86.8 L256.3 86.5 L256.8 86.2 L257.3 85.8 L257.8 85.5 L258.3 85.2 L258.8 84.9 L259.3 84.6 L259.8 84.3 L260.3 84.0 L260.7 83.8 L261.2 83.5 L261.7 83.2 L262.2 83.0 L262.7 82.7 L263.2 82.5 L263.7 82.2 L264.2 82.0 L264.7 81.7 L265.2 81.5 L265.7 81.3 L266.2 81.0 L266.7 80.8 L267.2 80.6 L267.7 80.4 L268.2 80.2 L268.7 80.0 L269.2 79.8 L269.7 79.6 L270.2 79.4 L270.7 79.3 L271.2 79.1 L271.7 78.9 L272.2 78.7 L272.7 78.6 L273.2 78.4 L273.7 78.3 L274.2 78.1 L274.7 78.0 L275.2 77.8 L275.7 77.7 L276.2 77.5 L276.7 77.4 L277.2 77.3 L277.7 77.1 L278.2 77.0 L278.7 76.9 L279.2 76.8 L279.7 76.7 L280.2 76.6 L280.7 76.5 L281.2 76.4 L281.7 76.3 L282.2 76.2 L282.7 76.1 L283.2 76.0 L283.7 75.9 L284.2 75.9 L284.7 75.8 L285.2 75.7 L285.7 75.6 L286.2 75.6 L286.7 75.5 L287.2 75.4 L287.7 75.4 L288.2 75.3 L288.7 75.3 L289.2 75.2 L289.7 75.2 L290.2 75.1 L290.7 75.1 L291.2 75.1 L291.7 75.0 L292.2 75.0 L292.7 75.0 L293.2 74.9 L293.7 74.9 L294.2 74.9 L294.7 74.9 L295.2 74.9 L295.7 74.9 L296.2 74.8 L296.7 74.8 L297.2 74.8 L297.7 74.8 L298.2 74.8 L298.7 74.8 L299.2 74.8 L299.7 74.8 L300.2 74.8 L300.7 74.9 L301.2 74.9 L301.7 74.9 L302.2 74.9 L302.7 74.9 L303.2 74.9 L303.7 75.0 L304.2 75.0 L304.7 75.0 L305.2 75.1 L305.7 75.1 L306.2 75.1 L306.7 75.2 L307.2 75.2 L307.7 75.2 L308.2 75.3 L308.7 75.3 L309.2 75.4 L309.7 75.4 L310.2 75.5 L310.7 75.6 L311.2 75.6 L311.7 75.7 L312.2 75.7 L312.7 75.8 L313.2 75.9 L313.7 75.9 L314.2 76.0 L314.7 76.1 L315.2 76.2 L315.7 76.2 L316.2 76.3 L316.7 76.4 L317.2 76.5 L317.7 76.5 L318.2 76.6 L318.7 76.7 L319.2 76.8 L319.7 76.9 L320.2 77.0 L320.7 77.1 L321.2 77.2 L321.7 77.3 L322.2 77.4 L322.7 77.5 L323.2 77.6 L323.7 77.7 L324.2 77.8 L324.7 77.9 L325.2 78.0 L325.7 78.1 L326.2 78.2 L326.7 78.3 L327.2 78.4 L327.7 78.5 L328.2 78.6 L328.7 78.7 L329.2 78.9 L329.7 79.0 L330.0 79.1 L332.0 79.5 L334.0 80.0 L336.0 80.5 L338.0 81.1 L340.0 81.6 L342.0 82.2 L344.0 82.8 L346.0 83.3 L348.0 83.9 L350.0 84.5 L352.0 85.2 L354.0 85.8 L356.0 86.4 L358.0 87.1 L360.0 87.7 L362.0 88.4 L364.0 89.1 L366.0 89.8 L368.0 90.5 L370.0 91.1 L372.0 91.8 L374.0 92.6 L376.0 93.3 L378.0 94.0 L380.0 94.7 L382.0 95.4 L384.0 96.2 L386.0 96.9 L388.0 97.7 L390.0 98.4 L392.0 99.1 L394.0 99.9 L396.0 100.7 L398.0 101.4 L400.0 102.2 L402.0 102.9 L404.0 103.7 L406.0 104.5 L408.0 105.2 L410.0 106.0 L412.0 106.8 L414.0 107.5 L416.0 108.3 L418.0 109.1 L420.0 109.9 L422.0 110.6 L424.0 111.4 L426.0 112.2 L428.0 112.9 L430.0 113.7 L432.0 114.5 L434.0 115.3 L436.0 116.1 L438.0 116.8 L440.0 117.6 L442.0 118.4 L444.0 119.1 L446.0 119.9 L448.0 120.7 L450.0 121.5 L452.0 122.2 L454.0 123.0 L456.0 123.8 L458.0 124.5 L460.0 125.3 L462.0 126.1 L464.0 126.8 L466.0 127.6 L468.0 128.4 L470.0 129.1 L472.0 129.9 L474.0 130.6 L476.0 131.4 L478.0 132.1 L480.0 132.9 L482.0 133.6 L484.0 134.4 L486.0 135.1 L488.0 135.9 L490.0 136.6 L492.0 137.4 L494.0 138.1 L496.0 138.8 L498.0 139.6 L500.0 140.3 L502.0 141.0 L504.0 141.8 L506.0 142.5 L508.0 143.2 L510.0 143.9 L512.0 144.7 L514.0 145.4 L516.0 146.1 L518.0 146.8 L520.0 147.5 L522.0 148.3 L524.0 149.0 L526.0 149.7 L528.0 150.4 L530.0 151.1 L532.0 151.8 L534.0 152.5 L536.0 153.2 L538.0 153.9 L540.0 154.6 L542.0 155.3 L544.0 155.9 L546.0 156.6 L548.0 157.3 L550.0 158.0 L552.0 158.7 L554.0 159.4 L556.0 160.0 L558.0 160.7 L560.0 161.4 L562.0 162.0 L564.0 162.7 L566.0 163.4 L568.0 164.0 L570.0 164.7 L572.0 165.3 L574.0 166.0 L576.0 166.7 L578.0 167.3 L580.0 168.0 L582.0 168.6 L584.0 169.2 L586.0 169.9 L588.0 170.5 L590.0 171.2 L592.0 171.8 L594.0 172.4 L596.0 173.1 L598.0 173.7 L600.0 174.3 L602.0 175.0 L604.0 175.6 L606.0 176.2 L608.0 176.8 L610.0 177.4 L612.0 178.0 L614.0 178.7 L616.0 179.3 L618.0 179.9 L620.0 180.5 L622.0 181.1 L624.0 181.7 L626.0 182.3 L628.0 182.9 L630.0 183.5 L632.0 184.1 L634.0 184.7 L636.0 185.3 L638.0 185.8 L640.0 186.4 L642.0 187.0 L644.0 187.6 L646.0 188.2 L648.0 188.8 L650.0 189.3 L652.0 189.9 L654.0 190.5 L656.0 191.0 L658.0 191.6 L660.0 192.2 L662.0 192.7 L664.0 193.3 L666.0 193.9 L668.0 194.4 L670.0 195.0 L672.0 195.5 L674.0 196.1 L676.0 196.6 L678.0 197.2 L680.0 197.7 L682.0 198.3 L684.0 198.8 L686.0 199.4 L688.0 199.9 L690.0 200.4 L692.0 201.0 L694.0 201.5 L696.0 202.0 L698.0 202.6 L700.0 203.1 L702.0 203.6 L704.0 204.2 L706.0 204.7 L708.0 205.2 L710.0 205.7 L712.0 206.2 L714.0 206.8 L716.0 207.3 L718.0 207.8 L720.0 208.3 L722.0 208.8 L724.0 209.3 L726.0 209.8 L728.0 210.3 L730.0 210.8 L732.0 211.3 L734.0 211.8 L736.0 212.3 L738.0 212.8 L740.0 213.3 L742.0 213.8 L744.0 214.3 L746.0 214.8 L748.0 215.3 L750.0 215.8 L752.0 216.2 L754.0 216.7 L756.0 217.2 L758.0 217.7 L760.0 218.2 L762.0 218.6 L764.0 219.1 L766.0 219.6 L768.0 220.1 L770.0 220.5 L772.0 221.0 L774.0 221.5 L776.0 221.9 L778.0 222.4 L780.0 222.9 L782.0 223.3 L784.0 223.8 L786.0 224.3 L788.0 224.7 L790.0 225.2 L792.0 225.6 L794.0 226.1 L796.0 226.5 L798.0 227.0 L800.0 227.4 L802.0 227.9 L804.0 228.3 L806.0 228.8 L808.0 229.2 L810.0 229.6 L812.0 230.1 L814.0 230.5 L816.0 231.0 L818.0 231.4 L820.0 231.8 L822.0 232.3 L824.0 232.7 L826.0 233.1 L828.0 233.6 L830.0 234.0 L832.0 234.4 L834.0 234.8 L836.0 235.3 L838.0 235.7 L840.0 236.1 L842.0 236.5 L844.0 236.9 L846.0 237.4 L848.0 237.8 L850.0 238.2 L852.0 238.6 L854.0 239.0 L856.0 239.4 L858.0 239.8 L860.0 240.3 L862.0 240.7 L864.0 241.1 L866.0 241.5 L868.0 241.9 L870.0 242.3 L872.0 242.7 L874.0 243.1 L876.0 243.5 L878.0 243.9 L880.0 244.3 L882.0 244.7 L884.0 245.1 L886.0 245.5 L888.0 245.8 L890.0 246.2 L892.0 246.6 L894.0 247.0 L896.0 247.4 L898.0 247.8 L900.0 248.2 L902.0 248.6 L904.0 248.9 L906.0 249.3 L908.0 249.7 L910.0 250.1 L912.0 250.5 L914.0 250.8 L916.0 251.2 L918.0 251.6 L920.0 252.0 L922.0 252.3 L924.0 252.7 L926.0 253.1 L928.0 253.5 L930.0 253.8 L932.0 254.2 L934.0 254.6 L936.0 254.9 L938.0 255.3 L940.0 255.7 L942.0 256.0 L944.0 256.4 L946.0 256.7 L948.0 257.1 L950.0 257.5 L952.0 257.8 L954.0 258.2 L956.0 258.5 L958.0 258.9 L960.0 259.2 L962.0 259.6 L964.0 259.9 L966.0 260.3 L968.0 260.6 L970.0 261.0 L972.0 261.3 L974.0 261.7 L976.0 262.0 L978.0 262.4 L980.0 262.7 L982.0 263.1 L984.0 263.4 L986.0 263.7 L988.0 264.1 L990.0 264.4 L992.0 264.8 L994.0 265.1 L996.0 265.4 L998.0 265.8 L1000.0 266.1 L1002.0 266.4 L1004.0 266.8 L1006.0 267.1 L1008.0 267.4 L1010.0 267.8 L1012.0 268.1 L1014.0 268.4 L1016.0 268.8 L1018.0 269.1 L1020.0 269.4 L1022.0 269.7 L1024.0 270.1 L1026.0 270.4 L1028.0 270.7 L1030.0 271.0 L1032.0 271.3 L1034.0 271.7 L1036.0 272.0 L1038.0 272.3 L1040.0 272.6 L1042.0 272.9 L1044.0 273.2 L1046.0 273.6 L1048.0 273.9 L1050.0 274.2 L1052.0 274.5 L1054.0 274.8 L1056.0 275.1 L1058.0 275.4 L1060.0 275.7 L1062.0 276.1 L1064.0 276.4 L1066.0 276.7 L1068.0 277.0 L1070.0 277.3 L1072.0 277.6 L1074.0 277.9 L1076.0 278.2 L1078.0 278.5 L1080.0 278.8 L1082.0 279.1 L1084.0 279.4 L1086.0 279.7 L1088.0 280.0 L1090.0 280.3 L1092.0 280.6 L1094.0 280.9 L1096.0 281.2 L1098.0 281.5 L1100.0 281.8 L1102.0 282.1 L1104.0 282.4 L1106.0 282.6 L1108.0 282.9 L1110.0 283.2 L1112.0 283.5 L1114.0 283.8 L1116.0 284.1 L1118.0 284.4 L1120.0 284.7 L1122.0 285.0 L1124.0 285.2 L1126.0 285.5 L1128.0 285.8 L1130.0 286.1 L1132.0 286.4 L1134.0 286.7 L1136.0 286.9 L1138.0 287.2 L1140.0 287.5 L1142.0 287.8 L1144.0 288.1 L1146.0 288.3 L1148.0 288.6 L1150.0 288.9 L1152.0 289.2 L1154.0 289.4 L1156.0 289.7 L1158.0 290.0 L1160.0 290.3 L1162.0 290.5 L1164.0 290.8 L1166.0 291.1 L1168.0 291.4 L1170.0 291.6 L1172.0 291.9 L1174.0 292.2 L1176.0 292.4 L1178.0 292.7 L1180.0 293.0 L1182.0 293.2 L1184.0 293.5 L1186.0 293.8 L1188.0 294.0 L1190.0 294.3 L1192.0 294.6 L1194.0 294.8 L1196.0 295.1 L1198.0 295.3 L1200.0 295.6 L1202.0 295.9 L1204.0 296.1 L1206.0 296.4 L1208.0 296.6 L1210.0 296.9 L1212.0 297.2 L1214.0 297.4 L1216.0 297.7 L1218.0 297.9 L1220.0 298.2 L1222.0 298.4 L1224.0 298.7 L1226.0 298.9 L1228.0 299.2 L1230.0 299.4 L1232.0 299.7 L1232.8 299.8" stroke="#81559d" stroke-linecap="butt"/>
</g>
<path d="M231.2 436.1 H315.6" stroke="#454344" stroke-width="2.5"/>
<path d="M231.2 483.8 H315.6" stroke="#2c4e97" stroke-width="3.0"/>
<path d="M231.2 529.9 H315.6" stroke="#81559d" stroke-width="3.0"/>
<path d="M232.7 568.4 H316.7" stroke="#e2312d" stroke-width="3.0"/>
<path d="M232.7 616.4 H316.7" stroke="#128a45" stroke-width="3.0"/>
<g font-family="'Liberation Serif', 'Noto Serif CJK SC', serif">
<text transform="translate(82.45,33.70) rotate(0) scale(0.9733,1)" font-size="45.60" fill="#1a1a1a">25</text>
<text transform="translate(82.36,167.60) rotate(0) scale(1.0201,1)" font-size="45.60" fill="#1a1a1a">20</text>
<text transform="translate(83.83,300.00) rotate(0) scale(0.9394,1)" font-size="45.60" fill="#1a1a1a">15</text>
<text transform="translate(83.61,433.00) rotate(0) scale(0.9961,1)" font-size="45.60" fill="#1a1a1a">10</text>
<text transform="translate(104.52,567.20) rotate(0) scale(0.9745,1)" font-size="45.60" fill="#1a1a1a">5</text>
<text transform="translate(113.21,734.80) rotate(0) scale(0.9752,1)" font-size="45.60" fill="#1a1a1a">0.0</text>
<text transform="translate(317.04,734.80) rotate(0) scale(0.9555,1)" font-size="45.60" fill="#1a1a1a">0.5</text>
<text transform="translate(512.48,734.80) rotate(0) scale(0.9540,1)" font-size="45.60" fill="#1a1a1a">1.0</text>
<text transform="translate(716.94,734.80) rotate(0) scale(0.9139,1)" font-size="45.60" fill="#1a1a1a">1.5</text>
<text transform="translate(908.82,734.80) rotate(0) scale(0.9895,1)" font-size="45.60" fill="#1a1a1a">2.0</text>
<text transform="translate(1113.19,734.80) rotate(0) scale(0.9509,1)" font-size="45.60" fill="#1a1a1a">2.5</text>
<text x="329.2 373.1 417.0" y="455.4" font-size="44.5" font-weight="600" fill="#1a1a1a">余波等</text>
<text transform="translate(459.27,439.60) rotate(0) scale(0.8982,1)" font-size="27.50" fill="#1a1a1a">[</text>
<text transform="translate(491.41,439.60) rotate(0) scale(0.8982,1)" font-size="27.50" fill="#1a1a1a">]</text>
<text transform="translate(467.15,438.90) rotate(0)" font-size="24.60" fill="#1a1a1a">31</text>
<text x="328.6 372.5 416.4 460.3" y="500.0" font-size="44.5" font-weight="600" fill="#1a1a1a">陶伯熊等</text>
<text transform="translate(503.27,484.30) rotate(0) scale(0.8982,1)" font-size="27.50" fill="#1a1a1a">[</text>
<text transform="translate(535.41,484.30) rotate(0) scale(0.8982,1)" font-size="27.50" fill="#1a1a1a">]</text>
<text transform="translate(511.15,483.60) rotate(0)" font-size="24.60" fill="#1a1a1a">30</text>
<text transform="translate(329.72,541.70) rotate(0) scale(0.8410,1)" font-size="44.50" fill="#1a1a1a">M</text>
<text transform="translate(362.45,541.70) rotate(0) scale(0.9281,1)" font-size="44.50" fill="#1a1a1a">ander</text>
<text x="458.0" y="543.9" font-size="44.5" font-weight="600" fill="#1a1a1a">等</text>
<text transform="translate(500.17,528.10) rotate(0) scale(0.8982,1)" font-size="27.50" fill="#1a1a1a">[</text>
<text transform="translate(532.21,528.10) rotate(0) scale(0.8982,1)" font-size="27.50" fill="#1a1a1a">]</text>
<text transform="translate(508.00,527.40) rotate(0)" font-size="24.60" fill="#1a1a1a">20</text>
<text transform="translate(539.24,541.70) rotate(0) scale(0.9012,1)" font-size="44.50" fill="#1a1a1a">(</text>
<text x="550.6 594.5 638.4" y="543.9" font-size="44.5" font-weight="600" fill="#1a1a1a">未锈蚀</text>
<text transform="translate(683.81,541.70) rotate(0) scale(0.9012,1)" font-size="44.50" fill="#1a1a1a">)</text>
<text transform="translate(330.38,585.50) rotate(0) scale(0.8382,1)" font-size="44.50" fill="#1a1a1a">V</text>
<text transform="translate(359.79,585.50) rotate(0) scale(0.8659,1)" font-size="44.50" fill="#1a1a1a">u</text>
<text x="379.5" y="587.8" font-size="44.5" font-weight="600" fill="#1a1a1a">等</text>
<text transform="translate(422.47,572.30) rotate(0) scale(0.8982,1)" font-size="27.50" fill="#1a1a1a">[</text>
<text transform="translate(453.91,572.30) rotate(0) scale(0.8982,1)" font-size="27.50" fill="#1a1a1a">]</text>
<text transform="translate(430.00,571.60) rotate(0)" font-size="24.60" fill="#1a1a1a">21</text>
<text x="328.9 372.8 416.7 460.6" y="631.8" font-size="44.5" font-weight="600" fill="#1a1a1a">郑山锁等</text>
<text transform="translate(503.17,616.10) rotate(0) scale(0.8982,1)" font-size="27.50" fill="#1a1a1a">[</text>
<text transform="translate(535.31,616.10) rotate(0) scale(0.8982,1)" font-size="27.50" fill="#1a1a1a">]</text>
<text transform="translate(511.05,615.40) rotate(0)" font-size="24.60" fill="#1a1a1a">67</text>
<text x="569.3 623.5" y="792.4" font-size="55" font-weight="600" fill="#1a1a1a">应变</text>
<text transform="translate(676.17,790.20) rotate(0) scale(0.8871,1)" font-size="54.00" font-style="italic" fill="#1a1a1a">ε</text>
<text transform="translate(696.20,790.20) rotate(0) scale(1.1998,1)" font-size="54.00" fill="#1a1a1a">/</text>
<text transform="translate(714.78,790.20) rotate(0) scale(0.9937,1)" font-size="54.00" fill="#1a1a1a">10</text>
<text transform="translate(766.83,777.00) rotate(0) scale(0.8922,1)" font-size="33.00" fill="#1a1a1a">−</text>
<text transform="translate(783.81,773.20) rotate(0) scale(0.9600,1)" font-size="33.00" fill="#1a1a1a">2</text>
<g transform="translate(50.2,0) rotate(-90)">
<text x="-474.1 -422.0" y="0.7" font-size="55" font-weight="600" fill="#1a1a1a">应力</text>
<text transform="translate(-366.49,0.00) rotate(0) scale(0.9107,1)" font-size="55.00" font-style="italic" fill="#1a1a1a">σ</text>
<text transform="translate(-339.50,0.00) rotate(0) scale(1.1256,1)" font-size="55.00" fill="#1a1a1a">/</text>
<text transform="translate(-329.12,0.00) rotate(0) scale(0.9604,1)" font-size="55.00" fill="#1a1a1a">M</text>
<text transform="translate(-284.93,0.00) rotate(0) scale(1.0298,1)" font-size="55.00" fill="#1a1a1a">P</text>
<text transform="translate(-254.31,0.00) rotate(0) scale(1.0402,1)" font-size="55.00" fill="#1a1a1a">a</text>
</g>
</g>
</svg>
</body></html>
